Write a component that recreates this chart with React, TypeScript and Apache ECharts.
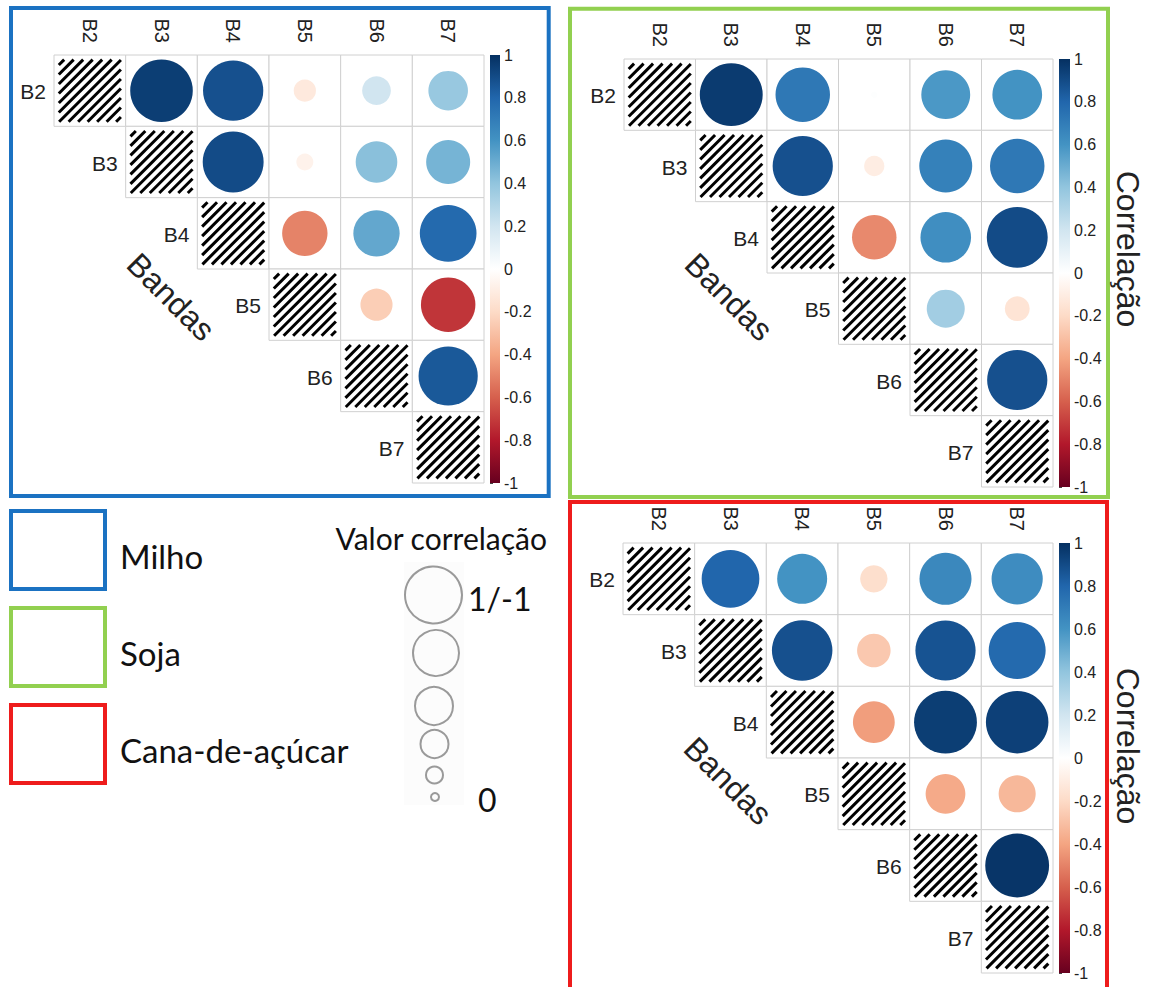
import React, { useEffect, useRef } from 'react';
import * as echarts from 'echarts';

const bands = ['B2', 'B3', 'B4', 'B5', 'B6', 'B7'];

// upper-triangle correlations, row Bi vs the following bands
const milhoCorr = [
  [0.95, 0.88, -0.12, 0.2, 0.38],
  [0.9, -0.07, 0.42, 0.47],
  [-0.5, 0.52, 0.78],
  [-0.25, -0.72],
  [0.85],
];
const sojaCorr = [
  [0.96, 0.72, 0.01, 0.58, 0.6],
  [0.88, -0.1, 0.68, 0.72],
  [-0.48, 0.62, 0.9],
  [0.35, -0.15],
  [0.88],
];
const canaCorr = [
  [0.8, 0.6, -0.18, 0.65, 0.63],
  [0.88, -0.27, 0.87, 0.78],
  [-0.42, 0.95, 0.94],
  [-0.38, -0.33],
  [0.98],
];

const rdBu = ['#67001F', '#B2182B', '#D6604D', '#F4A582', '#FDDBC7', '#FFFFFF', '#D1E5F0', '#92C5DE', '#4393C3', '#2166AC', '#053061'];

const legendNames = ['Milho', 'Soja', 'Cana-de-açúcar'];
const legendColors = ['#1B72C2', '#92D050', '#EE1C1C'];
const sizeLegendRadii = [28.5, 23, 19, 14, 8.5, 4];

const panelFont = 'Liberation Sans, Arial, sans-serif';
const legendFont = 'Lato, sans-serif';

function cellData(corr: number[][]) {
  const out: number[][] = [];
  for (let r = 0; r < bands.length; r++) {
    for (let c = r; c < bands.length; c++) {
      const v = r === c ? 1 : corr[r][c - r - 1];
      out.push([c, r, v]);
    }
  }
  return out;
}

function renderCell(params: any, api: any) {
  const c = api.value(0);
  const r = api.value(1);
  const v = api.value(2);
  const center = api.coord([c, r]);
  const size = api.size([1, 1]);
  const w = size[0];
  const h = size[1];
  const x0 = center[0] - w / 2;
  const y0 = center[1] - h / 2;
  const children: any[] = [
    { type: 'rect', shape: { x: x0, y: y0, width: w, height: h }, style: { fill: '#fff', stroke: '#d0d0d0', lineWidth: 1 } },
  ];
  if (c === r) {
    const s = Math.min(w, h) * 0.87;
    const hx = center[0] - s / 2;
    const hyB = center[1] + s / 2;
    const step = 9.5;
    for (let k = -s + step / 2; k < s; k += step) {
      const a1 = Math.max(0, -k);
      const a2 = Math.min(s, s - k);
      if (a2 - a1 < 1) continue;
      children.push({
        type: 'line',
        shape: { x1: hx + a1, y1: hyB - (a1 + k), x2: hx + a2, y2: hyB - (a2 + k) },
        style: { stroke: '#000', lineWidth: 3 },
      });
    }
    children.push({
      type: 'text',
      style: {
        x: x0 - 8,
        y: center[1] + 1,
        text: bands[r],
        align: 'right',
        verticalAlign: 'middle',
        fontSize: 21,
        fontFamily: panelFont,
        fill: '#222',
      },
    });
  } else {
    const rad = 0.45 * Math.sqrt(Math.abs(v)) * Math.min(w, h);
    children.push({
      type: 'circle',
      shape: { cx: center[0], cy: center[1], r: rad },
      style: { fill: api.visual('color') },
    });
  }
  return { type: 'group', children };
}

function renderBar(params: any, api: any) {
  const top = api.coord([0, 1]);
  const bot = api.coord([1, -1]);
  const stops = rdBu.map((col, i) => ({ offset: 1 - i / (rdBu.length - 1), color: col }));
  return {
    type: 'rect',
    shape: { x: top[0], y: top[1], width: bot[0] - top[0], height: bot[1] - top[1] },
    style: { fill: new echarts.graphic.LinearGradient(0, 0, 0, 1, stops.reverse()) },
  };
}

const panels = [
  { corr: milhoCorr, grid: { left: 54, top: 55, width: 430, height: 428 }, bar: { left: 490, top: 55, width: 10, height: 428 } },
  { corr: sojaCorr, grid: { left: 624, top: 59, width: 429, height: 428 }, bar: { left: 1059, top: 59, width: 11, height: 428 } },
  { corr: canaCorr, grid: { left: 623, top: 543, width: 430, height: 430 }, bar: { left: 1059, top: 543, width: 11, height: 430 } },
];

export default function App() {
  const ref = useRef<HTMLDivElement>(null);
  useEffect(() => {
    document.body.style.margin = '0';
    const chart = echarts.init(ref.current!, null, { renderer: 'svg' });
    const grid: any[] = [];
    const xAxis: any[] = [];
    const yAxis: any[] = [];
    const series: any[] = [];
    panels.forEach((p, i) => {
      grid.push(p.grid);
      grid.push(p.bar);
      xAxis.push({
        type: 'category',
        gridIndex: 2 * i,
        data: bands,
        position: 'top',
        axisLine: { show: false },
        axisTick: { show: false },
        splitLine: { show: false },
        axisLabel: { rotate: 90, margin: 12, fontSize: 20, color: '#222', fontFamily: panelFont },
      });
      yAxis.push({
        type: 'category',
        gridIndex: 2 * i,
        data: bands,
        inverse: true,
        axisLine: { show: false },
        axisTick: { show: false },
        axisLabel: { show: false },
        splitLine: { show: false },
      });
      xAxis.push({ type: 'value', gridIndex: 2 * i + 1, min: 0, max: 1, show: false });
      yAxis.push({
        type: 'value',
        gridIndex: 2 * i + 1,
        min: -1,
        max: 1,
        interval: 0.2,
        position: 'right',
        axisLine: { show: false },
        axisTick: { show: true, length: 3, lineStyle: { color: '#444' } },
        splitLine: { show: false },
        axisLabel: { fontSize: 16, margin: 4, color: '#222', fontFamily: panelFont },
      });
      series.push({
        type: 'custom',
        xAxisIndex: 2 * i,
        yAxisIndex: 2 * i,
        data: cellData(p.corr),
        renderItem: renderCell,
        encode: { x: 0, y: 1 },
        silent: true,
      });
    });
    panels.forEach((p, i) => {
      series.push({
        type: 'custom',
        xAxisIndex: 2 * i + 1,
        yAxisIndex: 2 * i + 1,
        data: [[0, -1]],
        renderItem: renderBar,
        silent: true,
      });
    });

    const graphic: any[] = [
      { type: 'rect', shape: { x: 11, y: 8, width: 537.7, height: 488 }, style: { fill: 'none', stroke: legendColors[0], lineWidth: 4 } },
      { type: 'rect', shape: { x: 570, y: 8.7, width: 538, height: 488.3 }, style: { fill: 'none', stroke: legendColors[1], lineWidth: 4 } },
      { type: 'rect', shape: { x: 570, y: 502, width: 537, height: 500 }, style: { fill: 'none', stroke: legendColors[2], lineWidth: 4 } },
    ];
    // Bandas labels
    [[171, 297], [729, 297], [728, 781]].forEach(([x, y]) => {
      graphic.push({
        type: 'text', x, y, rotation: -Math.PI / 4,
        style: { text: 'Bandas', fontSize: 32, fontFamily: panelFont, fill: '#222', align: 'center', verticalAlign: 'middle' },
      });
    });
    [[1128, 249], [1128, 746]].forEach(([x, y]) => {
      graphic.push({
        type: 'text', x, y, rotation: -Math.PI / 2,
        style: { text: 'Correlação', fontSize: 32, fontFamily: panelFont, fill: '#222', align: 'center', verticalAlign: 'middle' },
      });
    });
    // legend boxes
    const boxTops = [511, 608, 705];
    legendNames.forEach((name, i) => {
      graphic.push({ type: 'rect', shape: { x: 11, y: boxTops[i], width: 94, height: 78 }, style: { fill: 'none', stroke: legendColors[i], lineWidth: 4 } });
      graphic.push({ type: 'text', x: 120, y: boxTops[i] + 45, style: { text: name, fontSize: 33, fontFamily: legendFont, fill: '#111', align: 'left', verticalAlign: 'middle' } });
    });
    graphic.push({ type: 'text', x: 547, y: 538, style: { text: 'Valor correlação', fontSize: 30, fontFamily: legendFont, fill: '#111', align: 'right', verticalAlign: 'middle' } });
    graphic.push({ type: 'rect', shape: { x: 404, y: 562, width: 60, height: 243 }, style: { fill: '#fcfcfc' } });
    const cys = [595, 653, 706, 744, 775, 797];
    const cxs = [433.5, 436, 434, 434.5, 434.5, 435];
    sizeLegendRadii.forEach((r, i) => {
      graphic.push({ type: 'circle', shape: { cx: cxs[i], cy: cys[i], r }, style: { fill: 'none', stroke: '#9a9a9a', lineWidth: 2 } });
    });
    graphic.push({ type: 'text', x: 468, y: 598, style: { text: '1/-1', fontSize: 32, fontFamily: legendFont, fill: '#111', align: 'left', verticalAlign: 'middle' } });
    graphic.push({ type: 'text', x: 478, y: 799, style: { text: '0', fontSize: 32, fontFamily: legendFont, fill: '#111', align: 'left', verticalAlign: 'middle' } });

    chart.setOption({
      animation: false,
      backgroundColor: '#fff',
      grid,
      xAxis,
      yAxis,
      visualMap: {
        type: 'continuous',
        show: false,
        min: -1,
        max: 1,
        dimension: 2,
        seriesIndex: [0, 1, 2],
        inRange: { color: rdBu },
      },
      series,
      graphic,
    });
    return () => chart.dispose();
  }, []);
  return <div ref={ref} style={{ width: 1151, height: 987 }} />;
}
